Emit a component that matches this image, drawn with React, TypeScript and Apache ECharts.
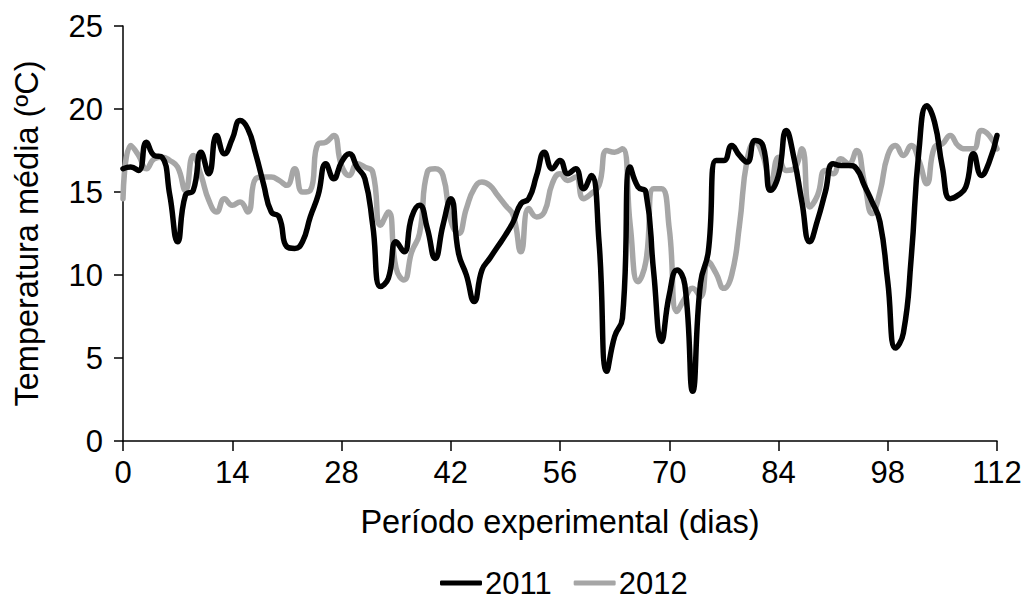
import React, { useEffect, useRef } from "react";
import * as echarts from "echarts";

const days: number[] = Array.from({ length: 113 }, (_, i) => i);

const temp2011: number[] = [
  16.4, 16.5, 16.3, 18.0, 17.2, 17.1, 14.8, 12.0, 14.8, 15.1,
  17.4, 16.1, 18.4, 17.3, 18.2, 19.3, 18.8, 17.3, 15.5, 13.8,
  13.5, 11.7, 11.6, 12.0, 13.5, 14.8, 16.7, 15.8, 16.8, 17.3,
  16.5, 15.8, 13.0, 9.3, 9.8, 12.0, 11.4, 13.5, 14.2, 12.8,
  11.0, 13.0, 14.6, 11.3, 10.0, 8.4, 10.3, 11.0, 11.7, 12.4,
  13.2, 14.3, 14.6, 16.0, 17.4, 16.4, 16.9, 16.1, 16.4, 15.2,
  16.0, 12.0, 4.2, 6.3, 7.4, 16.5, 15.3, 15.0, 10.2, 6.0,
  8.8, 10.3, 9.4, 3.0, 9.5, 11.4, 16.9, 16.9, 17.8, 17.2,
  16.8, 18.1, 17.8, 15.1, 16.0, 18.7, 17.0, 14.4, 12.0, 13.3,
  15.0, 16.7, 16.6, 16.6, 16.4, 15.4, 14.4, 13.2, 9.6, 5.6,
  6.5, 11.0, 17.5, 20.2, 19.2, 16.5, 14.6, 14.8, 15.3, 17.3,
  16.0, 16.8, 18.4,
];

const temp2012: number[] = [
  14.6, 17.8, 17.2, 16.4, 17.0, 17.1, 16.9, 16.5, 15.1, 17.2,
  16.0, 14.5, 13.8, 14.6, 14.2, 14.4, 13.8, 15.8, 15.9, 15.9,
  15.7, 15.4, 16.4, 15.0, 15.1, 17.9, 18.0, 18.4, 16.6, 16.0,
  16.7, 16.5, 16.2, 13.0, 13.8, 10.4, 9.7, 11.4, 12.5, 16.2,
  16.4, 16.0, 13.3, 12.5, 14.0, 15.2, 15.6, 15.4, 14.8, 14.2,
  13.6, 11.4, 14.0, 13.5, 13.8, 15.5, 16.1, 15.7, 15.9, 14.6,
  14.9, 15.4, 17.5, 17.4, 17.6, 13.0, 9.6, 10.8, 15.2, 15.2,
  12.8, 7.8, 8.6, 9.2, 8.7, 10.8, 10.1, 9.2, 10.0, 13.0,
  17.0, 18.0, 17.2, 15.5, 17.1, 16.3, 16.4, 17.6, 14.1, 14.8,
  16.3, 16.1, 17.0, 16.7, 17.5, 15.6, 13.7, 15.0, 17.2, 17.8,
  17.2, 17.8, 16.9, 15.5, 17.7, 17.9, 18.4, 17.8, 17.6, 17.6,
  18.7, 18.4, 17.6,
];

const seriesNames = ["2011", "2012"];
const xTitle = "Período experimental (dias)";
const yTitle = "Temperatura média (ºC)";

const FONT = "Liberation Sans, Arial, sans-serif";

export default function App() {
  const ref = useRef<HTMLDivElement>(null);
  useEffect(() => {
    if (!ref.current) return;
    const chart = echarts.init(ref.current, undefined, { renderer: "svg" });
    const axisText = { color: "#000", fontSize: 31, fontFamily: FONT };
    chart.setOption({
      animation: false,
      backgroundColor: "#fff",
      grid: { left: 123, right: 30, top: 26, bottom: 160, containLabel: false },
      legend: {
        left: 435,
        top: 566,
        padding: [0, 5, 0, 5],
        itemWidth: 42,
        itemHeight: 5,
        itemGap: 22,
        icon: "roundRect",
        textStyle: { color: "#000", fontSize: 31, fontFamily: FONT, lineHeight: 34, padding: [0, 0, 0, -2] },
        data: seriesNames,
      },
      xAxis: {
        type: "value",
        min: 0,
        max: 112,
        interval: 14,
        name: xTitle,
        nameLocation: "middle",
        nameGap: 64,
        nameTextStyle: { color: "#000", fontSize: 32.5, fontFamily: FONT },
        axisLine: { show: true, lineStyle: { color: "#000", width: 1.5 } },
        axisTick: { show: true, length: 10, lineStyle: { color: "#000", width: 1.5 } },
        axisLabel: { ...axisText, margin: 16 },
        splitLine: { show: false },
      },
      yAxis: {
        type: "value",
        min: 0,
        max: 25,
        interval: 5,
        name: yTitle,
        nameLocation: "middle",
        nameGap: 80,
        nameTextStyle: { color: "#000", fontSize: 32.5, fontFamily: FONT },
        axisLine: { show: true, lineStyle: { color: "#000", width: 1.5 } },
        axisTick: { show: true, length: 9, lineStyle: { color: "#000", width: 1.5 } },
        axisLabel: { ...axisText, margin: 20 },
        splitLine: { show: false },
      },
      series: [
        {
          name: seriesNames[0],
          type: "line",
          data: days.map((d, i) => [d, temp2011[i]]),
          smooth: 0.5,
          symbol: "none",
          lineStyle: { color: "#000000", width: 5.5, cap: "round", join: "round" },
          itemStyle: { color: "#000000" },
          z: 3,
        },
        {
          name: seriesNames[1],
          type: "line",
          data: days.map((d, i) => [d, temp2012[i]]),
          smooth: 0.5,
          symbol: "none",
          lineStyle: { color: "#a6a6a6", width: 5.5, cap: "round", join: "round" },
          itemStyle: { color: "#a6a6a6" },
          z: 2,
        },
      ],
    });
    return () => chart.dispose();
  }, []);
  return (
    <div
      ref={ref}
      style={{ position: "absolute", left: 0, top: 0, width: 1027, height: 601 }}
    />
  );
}
